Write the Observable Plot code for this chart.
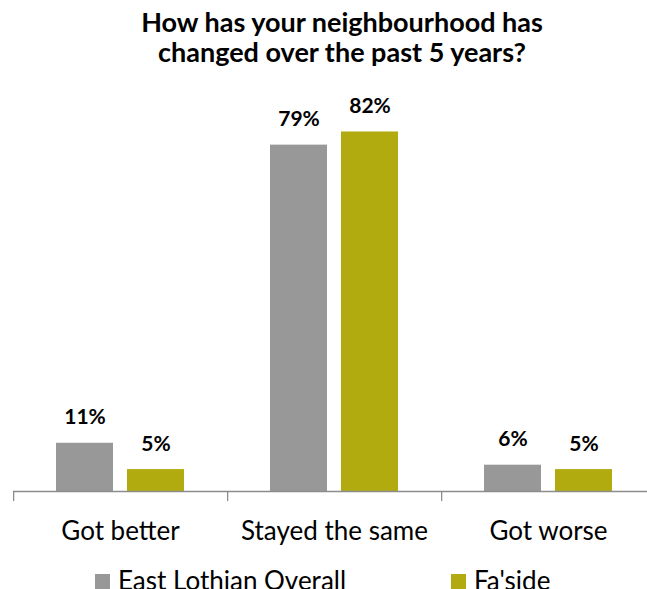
<!DOCTYPE html>
<html><head><meta charset="utf-8">
<script src="https://cdn.jsdelivr.net/npm/d3@7"></script>
<script src="https://cdn.jsdelivr.net/npm/@observablehq/plot@0.6"></script>
<style>
html,body{margin:0;padding:0;background:#fff;overflow:hidden;}
body{width:647px;height:589px;position:relative;font-family:Lato,"Open Sans",sans-serif;color:#000;}
#title{position:absolute;left:37px;top:7px;width:610px;text-align:center;font-weight:bold;font-size:27px;line-height:30px;white-space:nowrap;}
#chart{position:absolute;left:0;top:85px;width:647px;height:476px;overflow:hidden;}
.leg{position:absolute;top:565px;height:24px;line-height:30px;font-size:26px;white-space:nowrap;overflow:hidden;}
.sw{position:absolute;width:15px;height:15px;top:574px;}
</style>
</head><body>
<div id="title">How has your neighbourhood has<br>changed over the past 5 years?</div>
<div id="chart"></div>
<div id="legend"></div>
<script>
const categories = ["Got better", "Stayed the same", "Got worse"];
const seriesNames = ["East Lothian Overall", "Fa'side"];
const eastLothianOverall = [11, 79, 6];
const fasside = [5, 82, 5];
const seriesColors = ["#989898", "#b1ab0f"];

const seriesValues = [eastLothianOverall, fasside];
const rows = [];
categories.forEach((c, i) => seriesNames.forEach((s, j) => rows.push({category: c, series: s, value: seriesValues[j][i]})));

const width = 647, marginLeft = 12, marginRight = -8;
const paddingInner = 0.196, paddingOuter = 0.595;
const groupW = (width - marginLeft - marginRight) / categories.length;
const step = groupW / (seriesNames.length - paddingInner + 2 * paddingOuter);
const bandW = step * (1 - paddingInner);
const tickDx = -(step * paddingOuter + bandW / 2);

const chart = Plot.plot({
  width, height: 476, marginLeft, marginRight, marginTop: 11.4, marginBottom: 70,
  fx: {domain: categories, padding: 0, axis: null},
  x: {domain: seriesNames, paddingInner, paddingOuter, axis: null},
  y: {domain: [0, 90], axis: null},
  color: {domain: seriesNames, range: seriesColors},
  style: {fontFamily: "Lato, 'Open Sans', sans-serif", background: "#fff", overflow: "hidden"},
  marks: [
    Plot.barY(rows, {fx: "category", x: "series", y: "value", fill: "series"}),
    Plot.text(rows, {fx: "category", x: "series", y: "value", text: d => d.value + "%", dy: -19, lineAnchor: "bottom", fontWeight: "bold", fontSize: 21, fill: "#000"}),
    Plot.ruleY([0], {stroke: "#8c8c8c", strokeWidth: 1.3}),
    Plot.ruleX(categories, {fx: d => d, x: () => seriesNames[0], y1: 0, y2: -2.3, dx: tickDx, stroke: "#8c8c8c", strokeWidth: 1.3}),
    Plot.axisFx({anchor: "bottom", tickSize: 0, tickPadding: 30, fontSize: 26, label: null, fill: "#000"})
  ]
});
document.getElementById("chart").appendChild(chart);

const legend = document.getElementById("legend");
const legX = [95, 451];
seriesNames.forEach((s, j) => {
  const sw = document.createElement("div");
  sw.className = "sw"; sw.style.left = legX[j] + "px"; sw.style.background = seriesColors[j];
  legend.appendChild(sw);
  const t = document.createElement("div");
  t.className = "leg"; t.style.left = (legX[j] + 23) + "px"; t.textContent = s;
  legend.appendChild(t);
});
</script>
</body></html>
